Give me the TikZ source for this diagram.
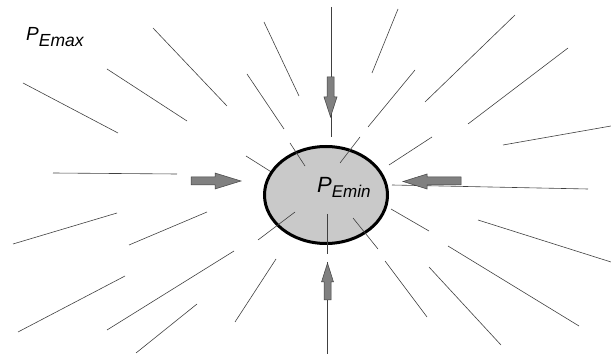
\documentclass[tikz,border=0pt]{standalone}
\usepackage{fontspec}
\setmainfont{Liberation Sans}
\usetikzlibrary{shapes.geometric}
\tikzset{
  ray/.style={draw=black!75,line width=0.6pt},
  push/.style={fill=black!50,draw=black!75,line width=0.5pt},
  core/.style={ellipse,draw=black,fill=black!21,line width=3pt,
    minimum width=123pt,minimum height=97pt,inner sep=0pt},
  plabel/.style={anchor=base west,inner sep=0pt,font=\itshape},
}

\begin{document}
\begin{tikzpicture}[x=1pt,y=-1pt]
  \useasboundingbox (0,0) rectangle (611,358);
  % rays
  \foreach \xa/\ya/\xb/\yb in {23/83/118/133, 107/69/187/121, 153/28/227/106,
      264/22/299/96, 247/74/284/129, 246/156/292/185, 53/173/177/174,
      398/9/372/73, 415/70/368/127, 515/15/425/102, 568/48/468/124,
      611/126/503/145, 432/137/389/165, 392/185/588/189,
      13/244/117/213, 129/245/207/212, 18/332/125/276, 107/330/234/251,
      136/353/197/304, 235/322/276/259, 385/261/427/317, 429/267/501/345,
      391/209/429/231, 448/246/579/326, 478/220/611/262,
      331/7/331/137, 327/262/327/354}
    \draw[ray] (\xa,\ya) -- (\xb,\yb);
  \node[core] (core) at (326,195) {};
  \foreach \xa/\ya/\xb/\yb in {290/143/305/166, 360/137/340/163,
      258/240/295/212, 327/214/327/254, 353/218/378/249}
    \draw[ray] (\xa,\ya) -- (\xb,\yb);
  % pushing arrows
  \draw[push] (191,177) -- (215,177) -- (215,173) -- (241,181)
    -- (215,189) -- (215,185) -- (191,185) -- cycle;
  \draw[push] (461,177) -- (427,177) -- (427,174) -- (403,181.5)
    -- (427,189) -- (427,185) -- (461,185) -- cycle;
  \draw[push] (327,77) -- (327,97) -- (324,97) -- (330.5,117)
    -- (337,97) -- (334,97) -- (334,77) -- cycle;
  \draw[push] (324,300) -- (324,282) -- (321.5,282) -- (327.5,263)
    -- (333.5,282) -- (331,282) -- (331,300) -- cycle;
  % labels
  \node[plabel] (pmax) at (26,41)
    {\fontsize{19}{19}\selectfont P\raisebox{-6pt}{\fontsize{17.5}{17.5}\selectfont Emax}};
  \node[plabel] (pmin) at (317,193)
    {\fontsize{22}{22}\selectfont P\raisebox{-5pt}{\fontsize{17}{17}\selectfont Emin}};
\end{tikzpicture}
\end{document}
